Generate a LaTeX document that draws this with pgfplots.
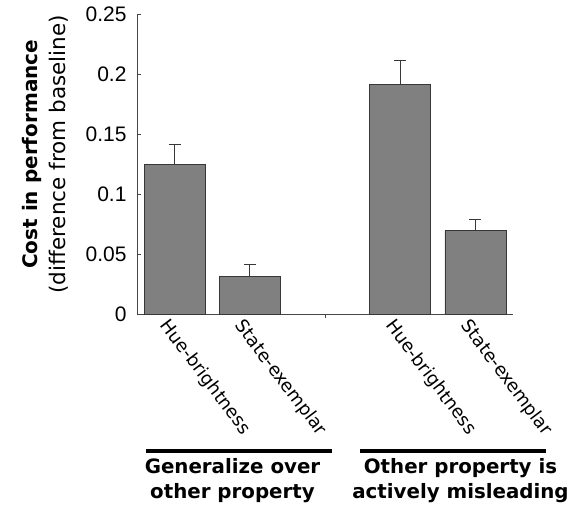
\documentclass[border=0pt]{standalone}
\usepackage{fontspec}
\setmainfont{DejaVu Sans}
\newfontfamily\tickfont{Liberation Sans}
\usepackage{pgfplots}
\pgfplotsset{compat=1.18}
\definecolor{barfill}{RGB}{128,128,128}
\definecolor{bardraw}{RGB}{55,55,55}
\definecolor{axcol}{RGB}{70,70,70}
\begin{document}
\begin{tikzpicture}
\path[use as bounding box] (-137pt,-200.7pt) rectangle (439pt,314.3pt);
\begin{axis}[
  scale only axis,
  width=376pt, height=300pt,
  xmin=-0.5, xmax=4.5,
  ymin=0, ymax=0.25,
  axis x line*=bottom, axis y line*=left,
  axis line style={axcol, line width=0.8pt},
  tick style={axcol, line width=0.8pt},
  tick align=inside,
  major tick length=4pt,
  ytick={0,0.05,0.1,0.15,0.2,0.25},
  yticklabels={0,0.05,0.1,0.15,0.2,0.25},
  yticklabel style={font=\tickfont\fontsize{21}{21}\selectfont, xshift=-7pt},
  xtick={2},
  xticklabels={},
  ybar, bar width=61pt,
  clip=false,
]
\addplot[fill=barfill, draw=bardraw, line width=0.8pt,
  error bars/.cd, y dir=plus, y explicit,
  error bar style={bardraw, line width=1pt},
  error mark options={rotate=90, mark size=6pt, bardraw, line width=1pt}]
  coordinates {
  (0,0.125) +- (0,0.0167)
  (1,0.0319) +- (0,0.0092)
  (3,0.1917) +- (0,0.0196)
  (4,0.0697) +- (0,0.0095)
};
\foreach \xx/\lab in {0/Hue-brightness,1/State-exemplar,3/Hue-brightness,4/State-exemplar}{
  \edef\tmp{\noexpand\node[rotate=-53, anchor=north west, inner sep=0pt,
     font=\noexpand\fontsize{18}{18}\noexpand\selectfont]
     at ([xshift=-4pt,yshift=-3pt]axis cs:\xx,0) {\lab};}
  \tmp
}
\end{axis}
% y label: two lines, bold above
\node[rotate=90, inner sep=0pt, font=\bfseries\fontsize{20}{24}\selectfont, anchor=base]
  at (-99pt,160pt) {Cost in performance};
\node[rotate=90, inner sep=0pt, font=\fontsize{21.5}{26}\selectfont, anchor=base]
  at (-71pt,160pt) {(difference from baseline)};
% group lines
\draw[black, line width=4pt] (9pt,-136.4pt) -- (195pt,-136.4pt);
\draw[black, line width=4pt] (223pt,-136.4pt) -- (409pt,-136.4pt);
\node[align=center, inner sep=0pt, font=\bfseries\fontsize{19.8}{25}\selectfont, anchor=north]
  at (95.5pt,-144pt) {Generalize over\\other property};
\node[align=center, inner sep=0pt, font=\bfseries\fontsize{19.8}{25}\selectfont, anchor=north]
  at (323.5pt,-144pt) {Other property is\\actively misleading};
\end{tikzpicture}
\end{document}
